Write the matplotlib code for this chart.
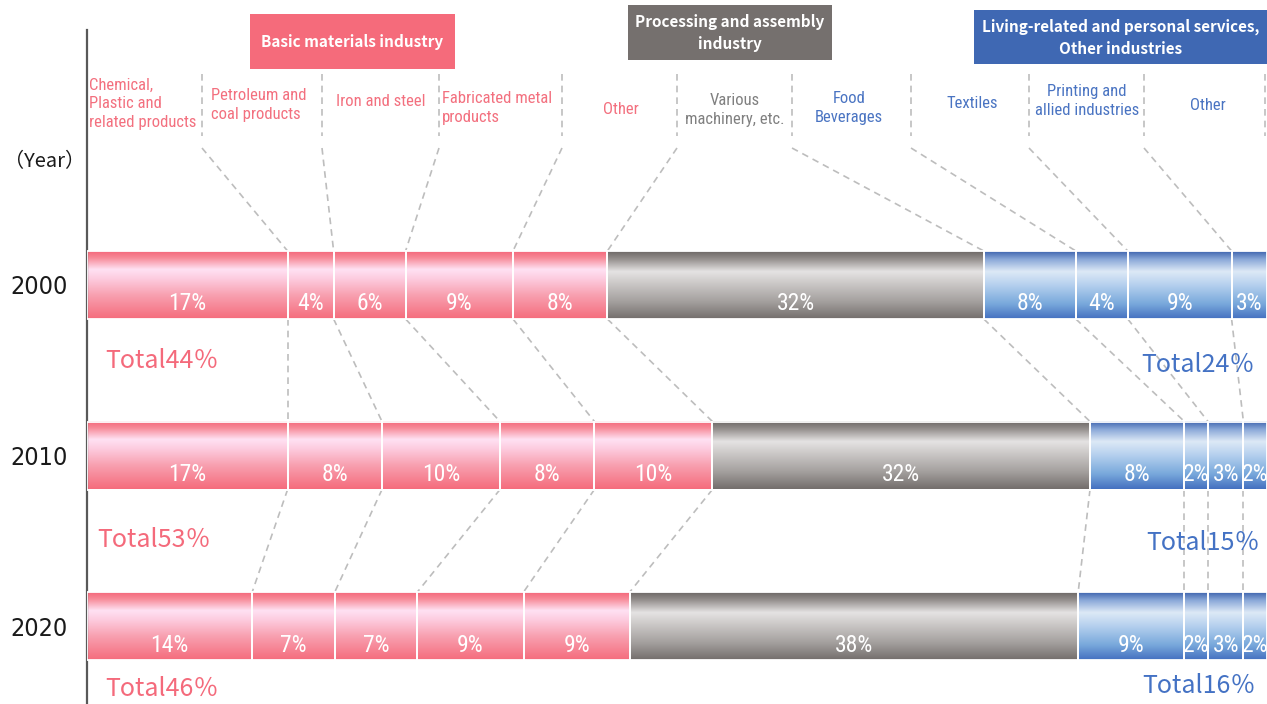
import numpy as np
import matplotlib
matplotlib.use("Agg")
import matplotlib.pyplot as plt
from matplotlib.colors import to_rgb
from matplotlib.patches import Rectangle

# ---------------- data ----------------
years = ["2000", "2010", "2020"]
categories = ["Chemical,\nPlastic and\nrelated products", "Petroleum and\ncoal products",
              "Iron and steel", "Fabricated metal\nproducts", "Other",
              "Various\nmachinery, etc.", "Food\nBeverages", "Textiles",
              "Printing and\nallied industries", "Other"]
category_group = ["basic"] * 5 + ["processing"] + ["living"] * 4
group_titles = {"basic": "Basic materials industry",
                "processing": "Processing and assembly\nindustry",
                "living": "Living-related and personal services,\nOther industries"}
share_2000 = [17.0, 3.9, 6.1, 9.1, 8.0, 31.9, 7.8, 4.4, 8.8, 3.0]
share_2010 = [17, 8, 10, 8, 10, 32, 8, 2, 3, 2]
share_2020 = [14, 7, 7, 9, 9, 38, 9, 2, 3, 2]
shares = [share_2000, share_2010, share_2020]

# ---------------- style ----------------
W, H = 1267, 704
X0, XR = 87, 1267
Y_ROW0, ROW_STEP = 285, 170.5

COND = ["Roboto Condensed", "DejaVu Sans"]
JP = ["Noto Sans CJK JP", "DejaVu Sans"]

PINK = "#F46A7B"
text_col = {"basic": "#F3707F", "processing": "#808080", "living": "#4A74C2"}
box_col = {"basic": "#F56B7B", "processing": "#75706E", "living": "#3F68B3"}

grad_stops = {
    "basic": [(0.0, "#F4687A"), (0.10, "#F78A98"), (0.27, "#FFE1F3"), (0.40, "#FDCDE0"),
              (0.65, "#F8A0B0"), (1.0, "#F56C7C")],
    "processing": [(0.0, "#6C6765"), (0.12, "#96918F"), (0.30, "#E5E3E3"), (0.45, "#CFCCCB"),
                   (0.75, "#A39F9D"), (1.0, "#736E6C")],
    "living": [(0.0, "#3E64AE"), (0.12, "#8AA8D8"), (0.30, "#DDE9F6"), (0.50, "#B5D0EE"),
               (0.78, "#78A8DB"), (1.0, "#4470C0")],
}


def gradient(stops, n=256):
    pos = np.array([s[0] for s in stops])
    cols = np.array([to_rgb(s[1]) for s in stops])
    t = np.linspace(0, 1, n)
    arr = np.stack([np.interp(t, pos, cols[:, k]) for k in range(3)], axis=1)
    return arr[:, None, :]


def dx(px):
    return (px - X0) / (XR - X0) * 100


def dy(py):
    return (py - Y_ROW0) / ROW_STEP


fig = plt.figure(figsize=(W / 100, H / 100), dpi=100)
ax = fig.add_axes([X0 / W, 0, (XR - X0) / W, 1])
ax.set_xlim(0, 100)
ax.set_ylim(dy(H), dy(0))
for s in ["top", "right", "bottom"]:
    ax.spines[s].set_visible(False)
ax.spines["left"].set_color("#595959")
ax.spines["left"].set_linewidth(1.6)
ax.spines["left"].set_bounds(dy(30), dy(H))
ax.set_xticks([])
ax.set_yticks(range(len(years)))
ax.set_yticklabels(years, fontsize=18, family="DejaVu Sans", fontstretch="condensed",
                   color="#1a1a1a")
ax.tick_params(axis="y", length=0, pad=14)

bar_h = 68 / ROW_STEP
dash_kw = dict(color="#BDBDBD", lw=1.2, linestyle=(0, (4, 3)), clip_on=False, zorder=1)

cums = []
for r, vals in enumerate(shares):
    lefts = np.concatenate([[0], np.cumsum(vals)[:-1]])
    cums.append(np.cumsum(vals))
    bars = ax.barh(r, vals, left=lefts, height=bar_h, color="none",
                   edgecolor="white", linewidth=1.3, zorder=3)
    for patch, grp, v in zip(bars.patches, category_group, vals):
        x0, y0 = patch.get_x(), patch.get_y()
        w, h = patch.get_width(), patch.get_height()
        ax.imshow(gradient(grad_stops[grp]), extent=(x0, x0 + w, y0 + h, y0),
                  origin="upper", aspect="auto", interpolation="bilinear", zorder=2)
        ax.text(x0 + w / 2, r + 19 / ROW_STEP, f"{round(v)}%", ha="center", va="center",
                color="white", fontsize=17, family=COND, zorder=4)

ax.set_xlim(0, 100)
ax.set_ylim(dy(H), dy(0))

# totals
total_pos_basic = [(105, 361), (97, 540), (105, 689)]
total_pos_living = [(1255, 365), (1260, 543), (1256, 686)]
for r, vals in enumerate(shares):
    t_basic = sum(v for v, g in zip(vals, category_group) if g == "basic")
    t_living = sum(v for v, g in zip(vals, category_group) if g == "living")
    px, py = total_pos_basic[r]
    ax.text(dx(px), dy(py), f"Total{round(t_basic)}％", ha="left", va="center",
            color=PINK, fontsize=18, family=JP, clip_on=False, zorder=5)
    px, py = total_pos_living[r]
    ax.text(dx(px), dy(py), f"Total{round(t_living)}％", ha="right", va="center",
            color="#4472C4", fontsize=18, family=JP, clip_on=False, zorder=5)

# connectors between years
for r in range(len(shares) - 1):
    for i in range(len(categories) - 1):
        ax.plot([cums[r][i], cums[r + 1][i]], [r + bar_h / 2, r + 1 - bar_h / 2], **dash_kw)

# category labels and separators
sep_x = [202, 322, 439, 562, 677, 792, 911, 1029, 1144, 1265]
for xs in sep_x:
    ax.plot([dx(xs), dx(xs)], [dy(74), dy(136)], **dash_kw)
for i in range(len(categories) - 1):
    ax.plot([dx(sep_x[i]), cums[0][i]], [dy(148), -bar_h / 2], **dash_kw)

label_pos = [(89, 104, "left"), (211, 105, "left"), (381, 101, "center"),
             (442, 108, "left"), (621, 110, "center"), (735, 110, "center"),
             (849, 108, "center"), (972, 104, "center"), (1087, 101, "center"),
             (1208, 106, "center")]
for lab, grp, (px, py, ha) in zip(categories, category_group, label_pos):
    ax.text(dx(px), dy(py), lab, ha=ha, va="center", multialignment=ha,
            color=text_col[grp], fontsize=12, family=COND, linespacing=1.3,
            clip_on=False, zorder=5)

# group header boxes
box_px = {"basic": (250, 14, 455, 69), "processing": (628, 5, 832, 60),
          "living": (974, 10, 1267, 64)}
for grp, (x1, y1, x2, y2) in box_px.items():
    ax.add_patch(Rectangle((dx(x1), dy(y2)), dx(x2) - dx(x1), dy(y1) - dy(y2),
                           facecolor=box_col[grp], edgecolor="none", clip_on=False, zorder=5))
    ax.text((dx(x1) + dx(x2)) / 2, (dy(y1) + dy(y2)) / 2 + 0.004, group_titles[grp],
            ha="center", va="center", color="white", fontsize=11, fontweight="bold",
            family=JP, linespacing=1.45, clip_on=False, zorder=6)

ax.text(dx(45), dy(162), "（Year）", ha="center", va="center", fontsize=14.5,
        family=JP, color="#1a1a1a", clip_on=False)

fig.savefig("out.png", dpi=100)
